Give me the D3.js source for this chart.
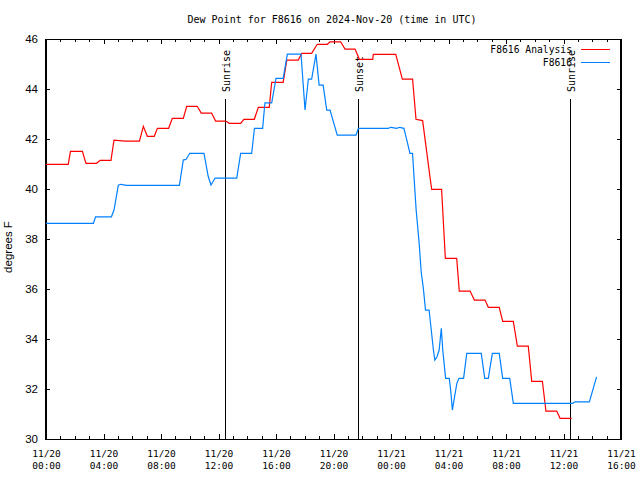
<!DOCTYPE html>
<html><head><meta charset="utf-8">
<script src="https://cdn.jsdelivr.net/npm/d3@7"></script>
<style>body{margin:0;background:#fff}svg{display:block}</style>
</head><body>
<svg id="c" width="640" height="480"></svg>
<script>
const title = "Dew Point for F8616 on 2024-Nov-20 (time in UTC)";
const yLabel = "degrees F";
const startTime = "2024-11-20T00:00:00Z";
const xTickHours = [0,4,8,12,16,20,24,28,32,36,40];
const yTicks = [30,32,34,36,38,40,42,44,46];
const seriesNames = ["F8616 Analysis","F8616"];
const seriesColors = ["#ff0000","#0080ff"];
// hours since 11/20 00:00 UTC
const analysisHours = [0,1.55,1.7,2.53,2.78,3.52,3.76,4.52,4.73,5.5,6.5,6.77,7.05,7.53,7.75,8.53,8.79,9.55,9.79,10.52,10.8,11.52,11.8,12.5,12.75,13.54,13.77,14.49,14.77,15.53,15.7,16.5,16.75,17.55,17.79,18.48,18.87,19.57,19.76,20.5,20.8,21.5,21.8,22.73,22.77,24.33,24.79,25.5,25.74,26.2,26.71,26.83,27.52,27.78,28.57,28.75,29.5,29.8,30.54,30.77,31.53,31.77,32.51,32.79,33.55,33.79,34.53,34.78,35.53,35.76,36.57];
const analysisValues = [41.0,41.0,41.52,41.52,41.04,41.04,41.16,41.16,41.97,41.93,41.93,42.52,42.12,42.12,42.44,42.44,42.84,42.84,43.32,43.32,43.05,43.05,42.73,42.73,42.64,42.64,42.8,42.8,43.28,43.28,44.28,44.28,45.17,45.17,45.44,45.44,45.8,45.8,45.9,45.9,45.61,45.61,45.2,45.2,45.4,45.4,44.41,44.41,42.8,42.75,40.5,40.0,40.0,37.24,37.24,35.93,35.93,35.57,35.57,35.28,35.28,34.72,34.72,33.73,33.73,32.32,32.32,31.13,31.13,30.84,30.84];
const obsHours = [0,3.3,3.45,4.55,4.73,5.03,5.2,5.6,9.28,9.55,9.75,10.0,10.99,11.29,11.48,11.76,13.27,13.54,14.31,14.5,15.07,15.23,15.7,16.0,16.5,16.79,17.74,18.02,18.25,18.48,18.78,19.0,19.28,19.53,19.76,20.26,21.57,21.73,23.8,24.0,24.4,24.6,24.9,25.1,25.32,25.5,25.6,25.75,25.95,26.1,26.25,26.4,26.65,26.8,26.95,27.05,27.2,27.35,27.5,27.6,27.8,28.05,28.15,28.27,28.42,28.58,28.73,29.05,29.27,30.28,30.52,30.77,31.05,31.53,31.77,32.26,32.51,36.64,36.8,37.8,38.3];
const obsValues = [38.64,38.64,38.9,38.9,39.17,40.16,40.2,40.16,40.16,41.17,41.2,41.44,41.44,40.5,40.17,40.45,40.45,41.44,41.44,42.44,42.44,43.46,43.46,44.44,44.44,45.41,45.41,43.17,44.41,44.41,45.41,44.17,44.17,43.17,43.17,42.17,42.17,42.44,42.44,42.48,42.44,42.48,42.44,41.97,41.44,41.44,40.5,39.17,37.9,36.7,36.04,35.17,35.17,34.37,33.57,33.17,33.3,33.57,34.44,33.57,32.44,32.44,31.97,31.17,31.7,32.24,32.44,32.44,33.44,33.44,32.44,32.44,33.44,33.44,32.44,32.44,31.44,31.44,31.5,31.5,32.5];
const sunEventNames = ["Sunrise","Sunset","Sunrise"];
const sunEventHours = [12.47,21.73,36.47];

const svg = d3.select("#c");
const L=46,R=621,T=39.3,B=439.3;
const t0 = new Date(startTime);
const hr = h => new Date(t0.getTime()+h*3600e3);
const x = d3.scaleUtc().domain([hr(0),hr(40)]).range([L,R]);
const y = d3.scaleLinear().domain([30,46]).range([B,T]);
const mono = "'DejaVu Sans Mono', monospace";
const sans = "'Liberation Sans', Arial, sans-serif";

svg.append("text").attr("x",332).attr("y",23).attr("text-anchor","middle")
  .style("font-family",mono).style("font-size","10px").text(title);

// minor ticks (hourly) bottom/top
const hourTicks = d3.range(0,41).map(hr);
const fmtD = d3.utcFormat("%m/%d"), fmtT = d3.utcFormat("%H:%M");
const minorB = svg.append("g").attr("transform",`translate(0,${B})`)
  .call(d3.axisBottom(x).tickValues(hourTicks).tickSize(-3).tickFormat(""));
const minorT = svg.append("g").attr("transform",`translate(0,${T})`)
  .call(d3.axisTop(x).tickValues(hourTicks).tickSize(-3).tickFormat(""));
const xb = svg.append("g").attr("transform",`translate(0,${B})`)
  .call(d3.axisBottom(x).tickValues(xTickHours.map(hr)).tickSize(-5).tickPadding(12).tickFormat(""));
const xt = svg.append("g").attr("transform",`translate(0,${T})`)
  .call(d3.axisTop(x).tickValues(xTickHours.map(hr)).tickSize(-5).tickFormat(""));
xb.selectAll(".tick").each(function(d){
  const g=d3.select(this);
  g.append("text").attr("y",18).attr("fill","#000").attr("text-anchor","middle")
   .style("font-family",mono).style("font-size","9.5px").text(fmtD(d));
  g.append("text").attr("y",30).attr("fill","#000").attr("text-anchor","middle")
   .style("font-family",mono).style("font-size","9.5px").text(fmtT(d));
});
const yl = svg.append("g").attr("transform",`translate(${L},0)`)
  .call(d3.axisLeft(y).tickValues(yTicks).tickSize(-4).tickPadding(8));
yl.selectAll("text").style("font-family",sans).style("font-size","11.5px").attr("fill","#000");
const yr = svg.append("g").attr("transform",`translate(${R},0)`)
  .call(d3.axisRight(y).tickValues(yTicks).tickSize(-4).tickFormat(""));
[minorB,minorT,xb,xt,yl,yr].forEach(g=>{g.select(".domain").remove();g.selectAll("line").attr("stroke","#000").attr("shape-rendering","crispEdges");});
svg.append("rect").attr("x",L).attr("y",T).attr("width",R-L).attr("height",B-T)
  .attr("fill","none").attr("stroke","#000").attr("stroke-width",1.2).attr("shape-rendering","crispEdges");

svg.append("text").attr("transform",`translate(12,247) rotate(-90)`).attr("text-anchor","middle")
  .style("font-family",sans).style("font-size","11.5px").text(yLabel);

// sun events
sunEventHours.forEach((h,i)=>{
  const xv = Math.round(x(hr(h)))+0.5;
  svg.append("line").attr("x1",xv).attr("x2",xv).attr("y1",99).attr("y2",B).attr("stroke","#000")
    .attr("stroke-width",1.2).attr("shape-rendering","crispEdges");
  svg.append("text").attr("transform",`translate(${xv+4},92) rotate(-90)`)
    .style("font-family",mono).style("font-size","10px").text(sunEventNames[i]);
});

const line = d3.line().x(d=>x(hr(d[0]))).y(d=>y(d[1]));
const series = [d3.zip(analysisHours,analysisValues), d3.zip(obsHours,obsValues)];
series.forEach((s,i)=>{
  svg.append("path").datum(s).attr("d",line).attr("fill","none")
    .attr("stroke",seriesColors[i]).attr("stroke-width",1.2);
});
// legend
seriesNames.forEach((n,i)=>{
  const ly = 49.5 + i*13;
  svg.append("text").attr("x",572).attr("y",ly+3.5).attr("text-anchor","end")
    .style("font-family",mono).style("font-size","9.7px").text(n);
  svg.append("line").attr("x1",581).attr("x2",610).attr("y1",ly).attr("y2",ly)
    .attr("stroke",seriesColors[i]).attr("stroke-width",1.2).attr("shape-rendering","crispEdges");
});
</script>
</body></html>
